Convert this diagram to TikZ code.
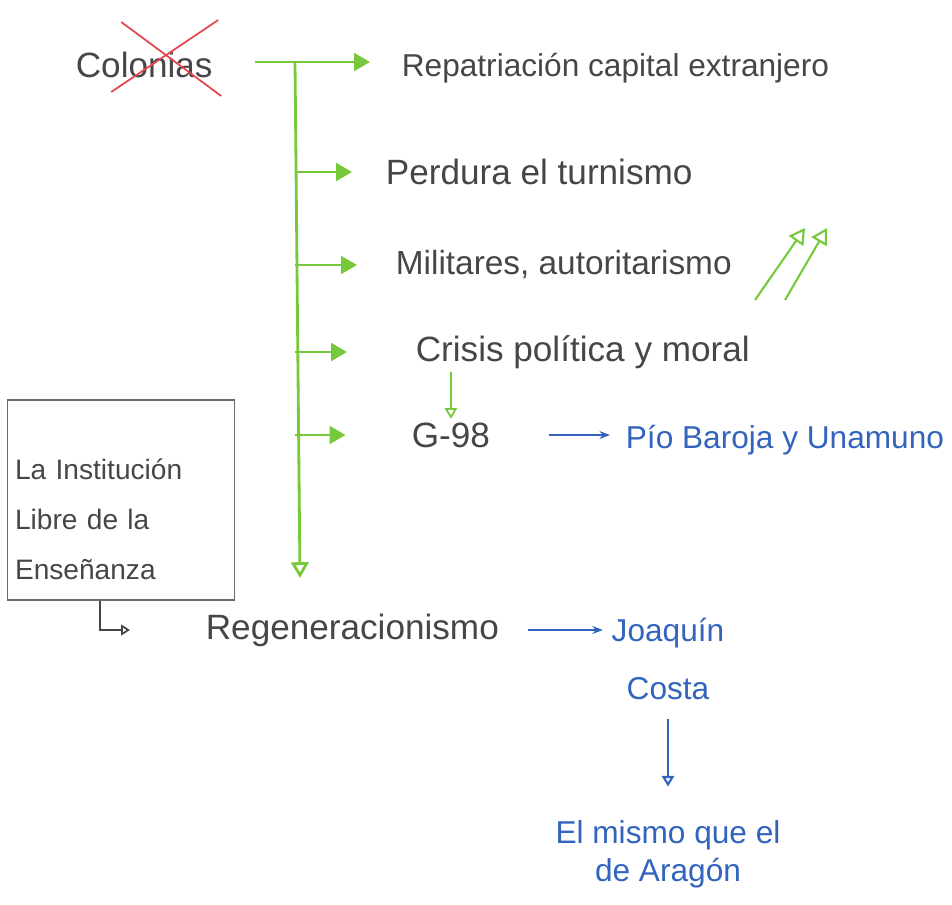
\documentclass[tikz,border=0pt]{standalone}
\usepackage{fontspec}
\setmainfont{Liberation Sans}
\usetikzlibrary{positioning, arrows.meta}

\definecolor{ink}{RGB}{70,70,70}
\definecolor{leaf}{RGB}{120,200,60}
\definecolor{pen}{RGB}{50,100,190}
\definecolor{cross}{RGB}{230,70,80}

\begin{document}
\begin{tikzpicture}[
    x=0.02cm, y=-0.02cm,
    every node/.style={font=\fontsize{18}{22}\selectfont, text=ink, inner sep=2pt},
    txt/.style={anchor=west},
    big/.style={font=\fontsize{20}{24}\selectfont},
    btxt/.style={text=pen, align=center},
    box/.style={draw=ink!80, line width=0.9pt, minimum width=4.54cm, minimum height=4cm,
        inner xsep=0.15cm, text width=4.24cm, align=left, font=\fontsize{16}{28.5}\selectfont},
    garr/.style={draw=leaf, line width=1.6pt, -{Triangle[length=9pt, width=10pt]}},
    gopen/.style={draw=leaf, line width=1.6pt, -{Triangle[open, length=9pt, width=10pt]}},
    barr/.style={draw=pen, line width=1.2pt, -{Stealth[length=6pt]}},
    bopen/.style={draw=pen, line width=1.2pt, -{Triangle[open, length=6pt, width=7pt]}},
    karr/.style={draw=ink, line width=1pt, -{Triangle[open, length=5pt, width=6pt]}},
]
    \useasboundingbox (0,0) rectangle (952,904);

    \node[txt, big] (colonias) at (72,65) {Colonias};
    \node[txt] (repat) at (398,68) {Repatriación capital extranjero};
    \node[txt, big] (perdura) at (382,172) {Perdura el turnismo};
    \node[txt, font=\fontsize{19}{23}\selectfont] (milit) at (392,265) {Militares, autoritarismo};
    \node[txt, big] (crisis) at (412,352) {Crisis política y moral};
    \node[txt, big] (g98) at (408,435) {G-98};
    \node[btxt, anchor=west] (pio) at (622,440) {Pío Baroja y Unamuno};
    \node[box] (ile) at (121,500) {\rule{0pt}{1.2cm}La Institución\\Libre de la\\Enseñanza};
    \node[txt, big] (regen) at (202,630) {Regeneracionismo};
    \node[btxt, anchor=north] (costa) at (668,614) {Joaquín\\[0.4cm]Costa};
    \node[btxt, below=2.25cm of costa] (aragon) {El mismo que el\\de Aragón};

    % crossed out word
    \draw[cross, line width=1pt] ([shift={(-33,27)}]colonias.center) -- ([shift={(74,-45)}]colonias.center);
    \draw[cross, line width=1pt] ([shift={(-23,-43)}]colonias.center) -- ([shift={(77,31)}]colonias.center);

    % green trunk
    \coordinate (start) at (255,62);
    \coordinate (trunk) at (295,62);
    \coordinate (trunkend) at (300,578);
    \draw[garr, shorten >=0.56cm] (start) -- (start -| repat.west);
    \draw[gopen] (trunk) -- (trunkend);
    \draw[garr, shorten >=0.6cm] (trunk |- perdura.west) -- (perdura.west);
    \draw[garr, shorten >=0.7cm] (trunk |- milit.west) -- (milit.west);
    \draw[garr, shorten >=1.3cm] (trunk |- crisis.west) -- (crisis.west);
    \draw[garr, shorten >=1.25cm] (trunk |- g98.west) -- (g98.west);
    \draw[gopen, line width=1pt, -{Triangle[open, length=6pt, width=7pt]}] (crisis.south -| g98.north) -- (g98.north);

    % going up
    \coordinate (up1) at (755,300);
    \coordinate (up2) at (785,300);
    \draw[gopen, line width=1.2pt] (up1) -- ++(50,-72);
    \draw[gopen, line width=1.2pt] (up2) -- ++(42,-72);

    % blue links
    \draw[barr, shorten <=1.1cm, shorten >=0.24cm] (g98.east) -- (g98.east -| pio.west);
    \draw[barr, shorten <=0.5cm, shorten >=0.1cm] (regen.east) -- (regen.east -| costa.west);
    \draw[bopen, shorten <=0.3cm, shorten >=0.6cm] (costa.south) -- (aragon.north);

    % box to regeneracionismo
    \draw[karr, shorten >=1.44cm] ([xshift=-0.42cm]ile.south) |- (regen.west);
\end{tikzpicture}
\end{document}
